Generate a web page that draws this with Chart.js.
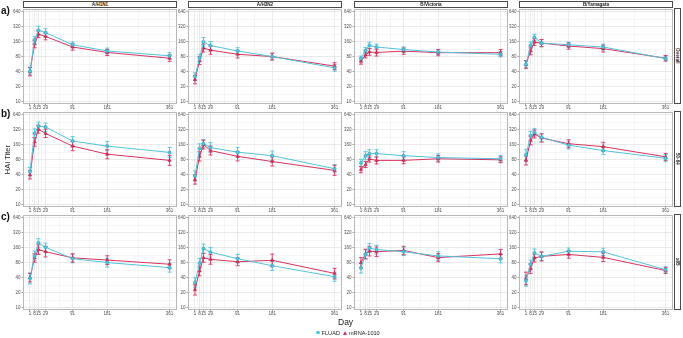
<!DOCTYPE html>
<html><head><meta charset="utf-8">
<script src="https://cdn.jsdelivr.net/npm/chart.js@4"></script>
<style>
body{margin:0;width:683px;height:338px;background:#fff;position:relative;overflow:hidden;font-family:'Liberation Sans',Arial,sans-serif;-webkit-font-smoothing:antialiased}
canvas{position:absolute}
.txt{position:absolute;white-space:nowrap;color:#1a1a1a}
.strip{position:absolute;box-sizing:border-box;border:1px solid #4a4a4a;background:#fff;display:flex;align-items:center;justify-content:center;font-size:4.6px;color:#1a1a1a;font-weight:bold}
.vstrip{writing-mode:vertical-rl}
</style>
</head><body>
<script>
// ---------- data ----------
const days = [1, 8, 15, 29, 91, 181, 361];
const strains = ['A/H1N1', 'A/H3N2', 'B/Victoria', 'B/Yamagata'];
const groups = ['Overall', '50-64', '≥65'];
const rowTags = ['a)', 'b)', 'c)'];
const yTicks = [10, 20, 40, 80, 160, 320, 640];
const seriesNames = ['FLUAD', 'mRNA-1010'];

// GMT per strain (rows) and day (columns)
const fluadOverall = [
  [41, 175, 273, 246, 140, 105, 84],
  [32, 76, 160, 135, 105, 81, 48],
  [74, 108, 136, 126, 112, 100, 90],
  [56, 136, 197, 151, 140, 126, 74]];
const fluadOverallLo = [
  [35, 150, 225, 205, 122, 92, 73],
  [27, 64, 132, 112, 90, 70, 41],
  [66, 95, 118, 110, 99, 89, 80],
  [48, 116, 170, 128, 124, 110, 66]];
const fluadOverallHi = [
  [48, 205, 330, 295, 160, 120, 97],
  [38, 90, 195, 162, 122, 94, 56],
  [83, 123, 157, 144, 127, 113, 101],
  [66, 160, 228, 178, 158, 144, 83]];
const mrnaOverall = [
  [40, 145, 228, 206, 126, 98, 75],
  [28, 67, 120, 109, 90, 81, 52],
  [65, 87, 100, 98, 104, 97, 97],
  [56, 105, 158, 151, 132, 117, 75]];
const mrnaOverallLo = [
  [33, 122, 195, 176, 109, 85, 65],
  [23, 56, 100, 90, 76, 69, 44],
  [57, 76, 86, 83, 90, 84, 84],
  [47, 88, 135, 128, 114, 100, 66]];
const mrnaOverallHi = [
  [49, 172, 265, 240, 145, 113, 87],
  [34, 80, 144, 131, 106, 95, 61],
  [74, 100, 117, 115, 120, 112, 112],
  [67, 125, 185, 178, 152, 137, 85]];

const fluad5064 = [
  [46, 272, 381, 365, 191, 151, 113],
  [38, 136, 170, 141, 114, 97, 53],
  [69, 97, 107, 107, 97, 89, 84],
  [100, 245, 285, 227, 158, 123, 86]];
const fluad5064Lo = [
  [38, 220, 315, 300, 155, 122, 90],
  [30, 110, 140, 112, 92, 78, 44],
  [58, 80, 89, 89, 80, 75, 72],
  [78, 200, 240, 190, 132, 102, 73]];
const fluad5064Hi = [
  [56, 335, 460, 440, 235, 187, 142],
  [48, 168, 205, 178, 142, 120, 64],
  [82, 117, 128, 128, 117, 106, 98],
  [130, 300, 340, 272, 190, 148, 102]];
const mrna5064 = [
  [40, 183, 330, 272, 151, 104, 78],
  [32, 94, 162, 123, 94, 74, 49],
  [51, 64, 83, 78, 78, 84, 80],
  [78, 197, 265, 220, 169, 147, 92]];
const mrna5064Lo = [
  [33, 150, 275, 225, 122, 84, 62],
  [26, 76, 132, 100, 76, 60, 39],
  [44, 56, 72, 66, 67, 72, 70],
  [63, 160, 220, 182, 140, 120, 78]];
const mrna5064Hi = [
  [49, 225, 395, 330, 187, 128, 98],
  [40, 117, 198, 152, 117, 92, 62],
  [59, 74, 96, 92, 91, 98, 92],
  [96, 240, 318, 265, 203, 180, 108]];

const fluad65 = [
  [39, 110, 200, 165, 97, 81, 64],
  [32, 79, 155, 131, 97, 70, 42],
  [63, 118, 160, 148, 134, 110, 97],
  [35, 75, 126, 108, 137, 133, 58]];
const fluad65Lo = [
  [30, 88, 165, 135, 80, 66, 52],
  [26, 64, 125, 105, 80, 56, 34],
  [50, 95, 130, 120, 112, 90, 80],
  [27, 62, 104, 90, 118, 112, 50]];
const fluad65Hi = [
  [50, 138, 245, 200, 118, 99, 78],
  [40, 98, 190, 162, 118, 87, 52],
  [78, 146, 195, 180, 160, 134, 117],
  [45, 91, 152, 130, 159, 157, 67]];
const mrna65 = [
  [40, 100, 148, 134, 101, 91, 75],
  [23, 55, 101, 94, 84, 90, 49],
  [81, 121, 138, 134, 142, 102, 121],
  [39, 61, 100, 108, 118, 103, 56]];
const mrna65Lo = [
  [33, 82, 118, 105, 83, 74, 61],
  [18, 44, 82, 75, 70, 67, 38],
  [64, 97, 110, 107, 117, 84, 98],
  [29, 49, 83, 87, 99, 85, 49]];
const mrna65Hi = [
  [49, 122, 185, 170, 122, 111, 92],
  [29, 69, 124, 117, 101, 120, 62],
  [102, 150, 172, 167, 172, 123, 149],
  [52, 76, 121, 133, 140, 125, 64]];

const fluadRows = [fluadOverall, fluad5064, fluad65];
const fluadLoRows = [fluadOverallLo, fluad5064Lo, fluad65Lo];
const fluadHiRows = [fluadOverallHi, fluad5064Hi, fluad65Hi];
const mrnaRows = [mrnaOverall, mrna5064, mrna65];
const mrnaLoRows = [mrnaOverallLo, mrna5064Lo, mrna65Lo];
const mrnaHiRows = [mrnaOverallHi, mrna5064Hi, mrna65Hi];

// ---------- styling / layout ----------
const COL_FLUAD = '#52C3DB';
const COL_MRNA = '#D7335F';
const XP = 0.85;                     // power transform of the day axis
const xT = d => Math.pow(d, XP);
const colLeft = [23, 188, 354, 519];
const rowTop = [8, 111, 214];
const PW = 154, PH = 96;
const YW = 18, XH = 7, PT = 3, PR = 4;
const FONT = "'Liberation Sans', Arial, sans-serif";

const errorBars = {
  id: 'errorBars',
  beforeDatasetsDraw(chart) {
    const ctx = chart.ctx, ys = chart.scales.y;
    chart.data.datasets.forEach((ds, i) => {
      const meta = chart.getDatasetMeta(i);
      ctx.save();
      ctx.strokeStyle = ds.errColor;
      ctx.lineWidth = 0.9;
      meta.data.forEach((pt, j) => {
        const x = pt.x;
        const y1 = ys.getPixelForValue(ds.errLo[j]);
        const y2 = ys.getPixelForValue(ds.errHi[j]);
        ctx.beginPath();
        ctx.moveTo(x, y1); ctx.lineTo(x, y2);
        ctx.moveTo(x - 2, y1); ctx.lineTo(x + 2, y1);
        ctx.moveTo(x - 2, y2); ctx.lineTo(x + 2, y2);
        ctx.stroke();
      });
      ctx.restore();
    });
  }
};
const panelBorder = {
  id: 'panelBorder',
  afterDraw(chart) {
    const a = chart.chartArea, ctx = chart.ctx;
    ctx.save();
    ctx.strokeStyle = '#b8b8b8';
    ctx.lineWidth = 1;
    ctx.strokeRect(Math.round(a.left) + 0.5, Math.round(a.top) + 0.5, Math.round(a.right - a.left) - 1, Math.round(a.bottom - a.top) - 1);
    ctx.restore();
  }
};

function xTickList() {
  const list = days.map(d => ({ value: xT(d), lab: String(d) }));
  for (let i = 0; i < days.length - 1; i++) {
    list.push({ value: (xT(days[i]) + xT(days[i + 1])) / 2, lab: '' });
  }
  return list.sort((a, b) => a.value - b.value);
}
function yTickList() {
  const list = yTicks.map(v => ({ value: v, lab: String(v) }));
  for (let i = 0; i < yTicks.length - 1; i++) {
    list.push({ value: Math.sqrt(yTicks[i] * yTicks[i + 1]), lab: '' });
  }
  return list.sort((a, b) => a.value - b.value);
}
const gridColor = c => (c.tick && c.tick.lab) ? '#e4e4e4' : '#f2f2f2';
const tickColor = c => (c.tick && c.tick.lab) ? '#8a8a8a' : 'rgba(0,0,0,0)';

function makePanel(r, s) {
  const cv = document.createElement('canvas');
  const w = PW + YW + PR, h = PH + PT + XH;
  cv.width = w; cv.height = h;
  cv.style.left = (colLeft[s] - YW) + 'px';
  cv.style.top = (rowTop[r] - PT) + 'px';
  cv.style.width = w + 'px'; cv.style.height = h + 'px';
  document.body.appendChild(cv);
  const mk = (vals) => days.map((d, j) => ({ x: xT(d), y: vals[j] }));
  new Chart(cv, {
    type: 'line',
    data: {
      datasets: [
        { label: seriesNames[0], data: mk(fluadRows[r][s]), errLo: fluadLoRows[r][s], errHi: fluadHiRows[r][s],
          errColor: COL_FLUAD, borderColor: COL_FLUAD, backgroundColor: COL_FLUAD, borderWidth: 1,
          pointStyle: 'circle', pointRadius: 1.7, pointBorderWidth: 0.4, pointBackgroundColor: COL_FLUAD, pointBorderColor: '#2a8fa8', tension: 0 },
        { label: seriesNames[1], data: mk(mrnaRows[r][s]), errLo: mrnaLoRows[r][s], errHi: mrnaHiRows[r][s],
          errColor: COL_MRNA, borderColor: COL_MRNA, backgroundColor: COL_MRNA, borderWidth: 1,
          pointStyle: 'triangle', pointRadius: 2.1, pointBorderWidth: 0.4, pointBackgroundColor: COL_MRNA, pointBorderColor: '#a01f45', tension: 0 }
      ]
    },
    options: {
      responsive: false, animation: false, devicePixelRatio: 1,
      layout: { padding: { top: PT, right: PR, left: 0, bottom: 0 } },
      plugins: { legend: { display: false }, tooltip: { enabled: false } },
      scales: {
        x: {
          type: 'linear', min: xT(1) - 0.05 * (xT(361) - xT(1)), max: xT(361) + 0.05 * (xT(361) - xT(1)),
          afterBuildTicks: sc => { sc.ticks = xTickList(); },
          afterFit: sc => { sc.height = XH; sc.paddingLeft = 0; sc.paddingRight = 0; },
          ticks: { autoSkip: false, maxRotation: 0, padding: 0, color: '#4d4d4d', font: { size: 4.5, family: FONT },
            callback: (v, i, t) => t[i].lab },
          grid: { color: gridColor, lineWidth: 0.8, tickLength: 1.5, tickColor: tickColor },
          border: { display: false }
        },
        y: {
          type: 'logarithmic', min: 9, max: 720,
          afterBuildTicks: sc => { sc.ticks = yTickList(); },
          afterFit: sc => { sc.width = YW; sc.paddingTop = 0; sc.paddingBottom = 0; },
          ticks: { autoSkip: false, padding: 1, color: '#4d4d4d', font: { size: 4.5, family: FONT },
            callback: (v, i, t) => t[i].lab },
          grid: { color: gridColor, lineWidth: 0.8, tickLength: 1.5, tickColor: tickColor },
          border: { display: false }
        }
      }
    },
    plugins: [errorBars, panelBorder]
  });
}

function addText(txt, css) {
  const d = document.createElement('div');
  d.className = 'txt';
  d.textContent = txt;
  Object.assign(d.style, css);
  document.body.appendChild(d);
  return d;
}

for (let r = 0; r < groups.length; r++) {
  for (let s = 0; s < strains.length; s++) makePanel(r, s);
}
// top strips
strains.forEach((st, s) => {
  const d = document.createElement('div');
  d.className = 'strip';
  d.textContent = st;
  Object.assign(d.style, { left: colLeft[s] + 'px', top: '1px', width: PW + 'px', height: '7px' });
  document.body.appendChild(d);
});
// right strips
groups.forEach((g, r) => {
  const d = document.createElement('div');
  d.className = 'strip';
  const sp = document.createElement('span');
  sp.className = 'vstrip';
  sp.textContent = g;
  d.appendChild(sp);
  Object.assign(d.style, { left: (colLeft[3] + PW + 1) + 'px', top: rowTop[r] + 'px', width: '7px', height: PH + 'px' });
  document.body.appendChild(d);
});
// row tags
rowTags.forEach((t, r) => {
  addText(t, { left: '1px', top: (rowTop[r] - 3) + 'px', fontSize: '10px', fontWeight: 'bold', color: '#111' });
});
// axis titles
addText('HAI Titer', { left: '3px', top: '145px', fontSize: '7.5px', writingMode: 'vertical-rl', transform: 'rotate(180deg)', color: '#222' });
addText('Day', { left: '338px', top: '317px', fontSize: '8.5px', color: '#222' });
// legend
const lg = document.createElement('div');
Object.assign(lg.style, { position: 'absolute', left: '316px', top: '329px', height: '7px', display: 'flex', alignItems: 'center', fontSize: '5.6px', color: '#222', whiteSpace: 'nowrap' });
const mk1 = document.createElement('span');
Object.assign(mk1.style, { display: 'inline-block', width: '3.6px', height: '3.6px', borderRadius: '50%', background: COL_FLUAD, marginRight: '2px' });
const t1 = document.createElement('span'); t1.textContent = seriesNames[0]; t1.style.marginRight = '3px';
const mk2 = document.createElement('span');
Object.assign(mk2.style, { display: 'inline-block', width: 0, height: 0, borderLeft: '2.2px solid transparent', borderRight: '2.2px solid transparent', borderBottom: '4px solid ' + COL_MRNA, marginRight: '2px' });
const t2 = document.createElement('span'); t2.textContent = seriesNames[1];
lg.append(mk1, t1, mk2, t2);
document.body.appendChild(lg);
</script>
</body></html>
